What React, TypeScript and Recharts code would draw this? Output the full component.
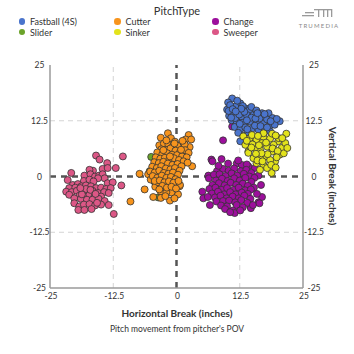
import React from 'react';
import { ScatterChart, Scatter, XAxis, YAxis, ReferenceLine } from 'recharts';

// pitch movement in inches: [horizontal break, vertical break]
const fastball = [
  [11.0, 17.5], [10.2, 16.6], [12.6, 16.4], [11.6, 15.7], [13.6, 15.3], [14.4, 14.9], [10.4, 13.6], [11.2, 14.0],
  [12.2, 14.5], [12.9, 13.4], [13.9, 13.8], [15.2, 13.8], [16.9, 14.2], [18.2, 14.2], [17.5, 13.2], [20.4, 12.4],
  [18.5, 11.5], [10.9, 12.6], [11.9, 12.3], [13.2, 12.1], [14.5, 12.3], [15.9, 12.1], [17.1, 11.9], [14.9, 10.7],
  [16.2, 10.5], [17.5, 10.6], [18.5, 10.1], [13.6, 9.0], [14.5, 8.2], [12.6, 7.9], [13.2, 9.2], [10.0, 15.0],
  [10.6, 16.0], [12.0, 17.0], [13.1, 15.8], [14.8, 15.6], [15.8, 14.8], [16.4, 13.0], [17.9, 12.8], [19.0, 13.1],
  [19.4, 11.6], [19.8, 12.9], [11.5, 11.1], [12.6, 10.6], [13.6, 11.0], [14.2, 9.8], [10.3, 14.7], [11.6, 13.1],
  [12.4, 13.9], [13.4, 14.5], [14.8, 13.2], [15.5, 11.4], [16.6, 11.3], [12.5, 11.8], [15.6, 13.0], [11.1, 15.1],
  [12.8, 15.2], [13.9, 12.6], [17.4, 14.0], [18.6, 12.4], [16.0, 14.2], [12.2, 9.8], [11.7, 14.6], [14.0, 10.6],
  [10.8, 13.2], [17.9, 11.0],
];

const slider = [
  [-5.0, 4.4], [-0.5, -0.3], [-3.6, -4.7], [-5.3, 1.2], [-4.4, -1.1], [-1.2, -0.8], [-2.8, -3.9], [-2.0, 1.0],
];

const cutter = [
  [-1.7, 9.7], [-3.1, 8.7], [-1.1, 8.6], [-0.3, 7.8], [2.4, 9.3], [1.8, 8.3], [2.9, 8.3], [1.0, 6.4],
  [2.6, 6.6], [3.1, 2.3], [-7.3, 0.6], [-5.6, 0.5], [-5.1, -0.7], [-6.3, -2.9], [-4.6, -4.6], [-3.1, -3.4],
  [-1.7, -1.8], [-1.3, -5.4], [0.3, -4.0], [0.6, -2.2], [-1.0, -3.6], [-2.0, -3.5], [-4.2, -2.3], [-3.6, -1.3],
  [-9.1, -5.6], [0.7, -1.9], [-3.1, -4.8], [-2.2, -4.4], [-0.4, -4.9],
  [-3.4, 7.0], [-2.5, 7.4], [-1.6, 7.1], [-0.7, 6.8], [0.2, 6.9], [1.6, 7.2], [-3.0, 6.1], [-2.1, 6.0],
  [-1.2, 6.3], [-0.2, 5.8], [0.7, 5.5], [1.7, 5.9], [2.4, 5.3], [-3.8, 5.4], [-2.8, 5.0], [-1.8, 5.2],
  [-0.9, 4.9], [0.1, 4.8], [1.1, 4.5], [2.0, 4.3], [-4.1, 4.3], [-3.2, 4.0], [-2.3, 4.2], [-1.4, 3.9],
  [-0.5, 4.1], [0.5, 3.7], [1.4, 3.4], [2.2, 3.1], [-4.4, 3.2], [-3.5, 3.0], [-2.6, 3.3], [-1.7, 2.9],
  [-0.8, 2.6], [0.2, 2.8], [1.0, 2.3], [-4.8, 2.2], [-3.9, 1.9], [-3.0, 2.3], [-2.1, 1.8], [-1.2, 1.6],
  [-0.3, 1.9], [0.6, 1.3], [-5.2, 1.1], [-4.3, 0.9], [-3.4, 1.3], [-2.5, 0.8], [-1.6, 0.6], [-0.7, 0.9],
  [0.3, 0.4], [-4.7, 0.1], [-3.8, -0.3], [-2.9, 0.2], [-2.0, -0.3], [-1.1, -0.1], [-0.2, -0.6], [-4.3, -1.0],
  [-3.3, -0.9], [-2.4, -1.3], [-1.5, -1.1], [-0.6, -1.4], [0.4, -1.0], [-2.8, -2.1], [-1.9, -2.5], [-1.0, -2.3],
  [-0.1, -2.7], [-3.4, -2.9], [-2.6, 5.9], [-0.4, 7.4], [1.2, 8.0], [-2.0, 8.1], [0.9, 6.0], [-1.3, 4.5],
];

const sinker = [
  [18.8, 0.8], [21.7, 9.6], [14.5, 8.6], [15.8, 8.2], [17.2, 8.8], [18.5, 8.5], [20.1, 7.9], [20.8, 6.4],
  [20.4, 4.9], [19.5, 3.4], [17.2, 2.6], [15.8, 3.0], [15.2, 4.1], [14.2, 5.6], [13.6, 7.1], [16.5, 6.0],
  [17.9, 6.7], [18.9, 5.6], [17.5, 4.5], [18.5, 3.7], [16.5, 4.3], [15.5, 6.4], [19.2, 7.1], [16.9, 7.5],
  [21.5, 7.5], [21.2, 5.2], [17.9, 1.9], [16.5, 1.5], [14.2, 5.3], [13.2, 9.0], [14.9, 9.3], [17.2, 9.7],
  [18.9, 9.6], [20.2, 8.6], [16.1, 9.1], [19.6, 9.2], [15.0, 7.2], [16.3, 7.0], [17.7, 7.6], [19.0, 6.3],
  [20.0, 5.7], [19.8, 4.3], [18.0, 5.0], [16.8, 5.2], [15.7, 5.1], [16.0, 3.6], [17.0, 3.4], [18.7, 2.6],
  [14.8, 6.5], [19.6, 2.0], [21.9, 6.4], [13.9, 8.0], [20.9, 8.6],
];

const change = [
  [9.2, 8.1], [6.9, 3.8], [8.9, 3.9], [11.0, 11.2], [6.3, 0.2], [7.1, 3.4], [10.2, 2.9], [11.9, 2.9],
  [12.9, 2.6], [14.2, 2.3], [15.5, 1.9], [6.4, -0.4], [16.7, -1.9], [5.1, -3.4], [5.3, -4.9], [6.6, -6.4],
  [11.2, -7.6], [14.6, -6.7], [16.2, -5.8], [16.9, -4.6], [15.9, -3.9], [14.7, -7.1], [16.4, -6.0], [16.2, 0.2],
  [13.9, 2.7], [11.5, -8.2],
  [8.0, 1.2], [9.2, 1.7], [10.3, 1.3], [11.4, 1.8], [12.7, 1.2], [13.8, 1.5], [14.8, 0.8], [7.4, 0.4],
  [8.5, 0.5], [9.7, 0.1], [10.9, 0.7], [12.0, 0.2], [13.3, 0.6], [14.4, 0.0], [15.4, -0.3], [7.8, -0.9],
  [9.0, -0.5], [10.1, -1.0], [11.4, -0.4], [12.5, -0.9], [13.6, -0.3], [14.8, -1.2], [7.1, -1.9], [8.4, -1.5],
  [9.5, -2.0], [10.7, -1.4], [11.8, -1.9], [13.1, -1.6], [14.1, -2.1], [15.3, -2.5], [6.5, -2.8], [7.7, -2.5],
  [8.9, -3.0], [10.0, -2.6], [11.3, -3.0], [12.3, -2.5], [13.6, -3.1], [14.7, -2.9], [7.0, -3.8], [8.2, -3.4],
  [9.4, -4.0], [10.6, -3.5], [11.7, -4.0], [12.9, -3.6], [14.1, -3.9], [6.2, -4.6], [7.6, -4.7], [8.7, -4.3],
  [9.9, -4.9], [11.1, -4.5], [12.3, -4.9], [13.4, -4.3], [14.6, -5.0], [7.9, -5.6], [9.2, -5.5], [10.4, -5.4],
  [11.6, -5.8], [12.8, -5.3], [14.0, -5.9], [8.8, -6.5], [10.0, -6.7], [11.9, -6.4], [13.1, -6.9], [9.6, -7.3],
  [12.6, -7.6], [10.6, -8.0], [8.3, 2.4], [12.2, 3.6], [15.1, -6.4],
];

const sweeper = [
  [-10.6, 4.5], [-15.9, 4.7], [-15.2, 3.8], [-13.7, 3.0], [-12.0, 1.9], [-14.6, 1.7], [-13.6, 1.9], [-16.5, 1.3],
  [-17.2, 1.5], [-20.8, 0.8], [-18.2, 0.2], [-17.0, 0.5], [-16.1, 0.0], [-15.3, 0.2], [-14.6, 0.5], [-14.2, -0.4],
  [-15.5, -0.4], [-21.5, -0.8], [-18.3, -1.0], [-17.2, -0.7], [-16.4, -1.1], [-13.6, -1.5], [-12.6, -1.3], [-10.9, -2.0],
  [-20.5, -1.9], [-19.5, -1.7], [-21.2, -2.6], [-20.0, -2.5], [-18.8, -2.2], [-17.9, -2.0], [-16.9, -2.2], [-15.9, -2.6],
  [-14.9, -2.5], [-13.9, -2.8], [-13.0, -2.6], [-21.8, -3.4], [-20.7, -3.5], [-19.7, -3.2], [-18.5, -3.4], [-17.5, -3.5],
  [-16.6, -3.2], [-15.5, -3.7], [-14.3, -3.5], [-13.4, -3.7], [-21.2, -4.1], [-19.2, -4.3], [-18.2, -4.5], [-17.2, -4.1],
  [-16.2, -4.5], [-14.9, -4.5], [-20.2, -4.9], [-18.9, -5.0], [-17.7, -5.2], [-16.6, -5.2], [-15.4, -5.0], [-14.2, -5.5],
  [-13.4, -6.4], [-20.2, -6.0], [-19.2, -6.7], [-18.3, -6.3], [-17.2, -6.2], [-16.1, -6.5], [-14.9, -6.3], [-19.4, -7.5],
  [-18.2, -7.5], [-12.4, -8.4], [-16.8, -7.3], [-15.7, -5.9], [-17.9, -2.8], [-17.0, -3.0], [-18.7, -4.0], [-16.0, -3.9],
  [-19.0, -2.6],
];

const ticks = [-25, -12.5, 0, 12.5, 25];

// draw order matters: later series sit on top
const series = [
  { name: 'Change', color: '#9c0f9c', points: change },
  { name: 'Fastball (4S)', color: '#4a74cc', points: fastball },
  { name: 'Sinker', color: '#e3e31c', points: sinker },
  { name: 'Sweeper', color: '#dc5786', points: sweeper },
  { name: 'Slider', color: '#6ba32a', points: slider },
  { name: 'Cutter', color: '#f7941d', points: cutter },
];

const legendOrder = ['Fastball (4S)', 'Slider', 'Cutter', 'Sinker', 'Change', 'Sweeper'];

const FONT = 'Lato, sans-serif';

const Dot = (props: any) => (
  <circle cx={props.cx} cy={props.cy} r={3.5} fill={props.fill} stroke="#333" strokeWidth={0.8} />
);

const tickStyle = { fontSize: 8.5, fill: '#333', fontFamily: FONT };

const App = () => {
  const colorOf = (n: string) => series.find((s) => s.name === n)!.color;

  return (
    <div style={{ position: 'absolute', left: 0, top: 0, width: 354, height: 354, background: '#fff', fontFamily: FONT, color: '#333' }}>
      <ScatterChart width={354} height={354} margin={{ top: 45, right: 0, bottom: 46, left: 0 }}>
        <XAxis
          xAxisId="b" type="number" dataKey="x" domain={[-25, 25]} ticks={ticks} interval={0}
          height={20} tickSize={0} tickMargin={0} tickLine={false}
          axisLine={{ stroke: '#9a9a9a', strokeWidth: 1.5 }}
          tick={(p: any) => (
            <text x={p.x + 1} y={p.y + 7.5} textAnchor="middle" dominantBaseline="central" style={tickStyle}>{p.payload.value}</text>
          )}
        />
        <XAxis
          xAxisId="t" orientation="top" type="number" domain={[-25, 25]} ticks={ticks} interval={0} allowDataOverflow
          height={20} tickSize={0} tickMargin={0} tickLine={false} axisLine={false}
          tick={(p: any) => (
            <text x={p.x + 1} y={p.y - 7} textAnchor="middle" dominantBaseline="central" style={tickStyle}>{p.payload.value}</text>
          )}
        />
        <YAxis
          yAxisId="l" type="number" dataKey="y" domain={[-25, 25]} ticks={ticks} interval={0}
          width={50} tickSize={0} tickMargin={0} tickLine={false}
          axisLine={{ stroke: '#9a9a9a', strokeWidth: 1.5 }}
          tick={(p: any) => (
            <text x={p.x - 10.5} y={p.y} textAnchor="middle" dominantBaseline="central" style={tickStyle}>{p.payload.value}</text>
          )}
        />
        <YAxis
          yAxisId="r" orientation="right" type="number" domain={[-25, 25]} ticks={ticks} interval={0} allowDataOverflow
          width={51} tickSize={0} tickMargin={0} tickLine={false}
          axisLine={{ stroke: '#9a9a9a', strokeWidth: 1.5 }}
          tick={(p: any) => (
            <text x={p.x + 11} y={p.y} textAnchor="middle" dominantBaseline="central" style={tickStyle}>{p.payload.value}</text>
          )}
        />

        <ReferenceLine xAxisId="b" yAxisId="l" x={-12.5} stroke="#d4d4d4" strokeDasharray="5 4" />
        <ReferenceLine xAxisId="b" yAxisId="l" x={12.5} stroke="#d4d4d4" strokeDasharray="5 4" />
        <ReferenceLine xAxisId="b" yAxisId="l" y={-12.5} stroke="#d4d4d4" strokeDasharray="5 4" />
        <ReferenceLine xAxisId="b" yAxisId="l" y={12.5} stroke="#d4d4d4" strokeDasharray="5 4" />
        <ReferenceLine xAxisId="b" yAxisId="l" x={0} stroke="#555" strokeWidth={2.5} strokeDasharray="6 5" />
        <ReferenceLine xAxisId="b" yAxisId="l" y={0} stroke="#555" strokeWidth={2.5} strokeDasharray="6 5" />

        {series.map((s) => (
          <Scatter
            key={s.name}
            name={s.name}
            xAxisId="b"
            yAxisId="l"
            data={s.points.map(([x, y]) => ({ x, y }))}
            fill={s.color}
            shape={<Dot />}
            isAnimationActive={false}
          />
        ))}
      </ScatterChart>

      {/* legend */}
      <div style={{ position: 'absolute', left: 0, width: 354, top: 4, textAlign: 'center', fontSize: 11, lineHeight: '14px' }}>PitchType</div>
      {legendOrder.map((name, i) => {
        const col = Math.floor(i / 2);
        const row = i % 2;
        const left = [18.5, 114, 212][col];
        const top = [16, 26.5][row];
        return (
          <div key={name} style={{ position: 'absolute', left, top, height: 11, display: 'flex', alignItems: 'center', fontSize: 9, whiteSpace: 'nowrap' }}>
            <span style={{ width: 6.5, height: 6.5, borderRadius: '50%', background: colorOf(name), marginRight: 5 }} />
            {name}
          </div>
        );
      })}

      {/* logo */}
      <svg style={{ position: 'absolute', left: 300, top: 8 }} width={40} height={12}>
        <rect x={5} y={4} width={9} height={1.3} fill="#9a9a9a" />
        <rect x={2} y={7} width={12} height={1.3} fill="#9a9a9a" />
        <rect x={14} y={1} width={9} height={1.3} fill="#9a9a9a" />
        <rect x={18} y={1} width={1.3} height={8} fill="#9a9a9a" />
        <rect x={23} y={1} width={9} height={1.3} fill="#9a9a9a" />
        <rect x={23} y={1} width={1.3} height={8} fill="#9a9a9a" />
        <rect x={27} y={1} width={1.3} height={8} fill="#9a9a9a" />
        <rect x={31} y={1} width={1.3} height={8} fill="#9a9a9a" />
      </svg>
      <div style={{ position: 'absolute', left: 290, width: 58, top: 22, textAlign: 'center', fontSize: 6, letterSpacing: 1.2, color: '#8a8a8a' }}>TRUMEDIA</div>

      {/* axis titles */}
      <div style={{ position: 'absolute', left: 0, width: 354, top: 306, textAlign: 'center', fontSize: 10, fontWeight: 700, lineHeight: '14px' }}>
        Horizontal Break (inches)
      </div>
      <div style={{ position: 'absolute', left: 0, width: 354, top: 324, textAlign: 'center', fontSize: 8.5, lineHeight: '11px' }}>
        Pitch movement from pitcher's POV
      </div>
      <div style={{ position: 'absolute', left: 332.5, top: 176, transform: 'translate(-50%, -50%) rotate(90deg)', fontSize: 10, fontWeight: 700, whiteSpace: 'nowrap', lineHeight: '14px' }}>
        Vertical Break (inches)
      </div>
    </div>
  );
};

export default App;
